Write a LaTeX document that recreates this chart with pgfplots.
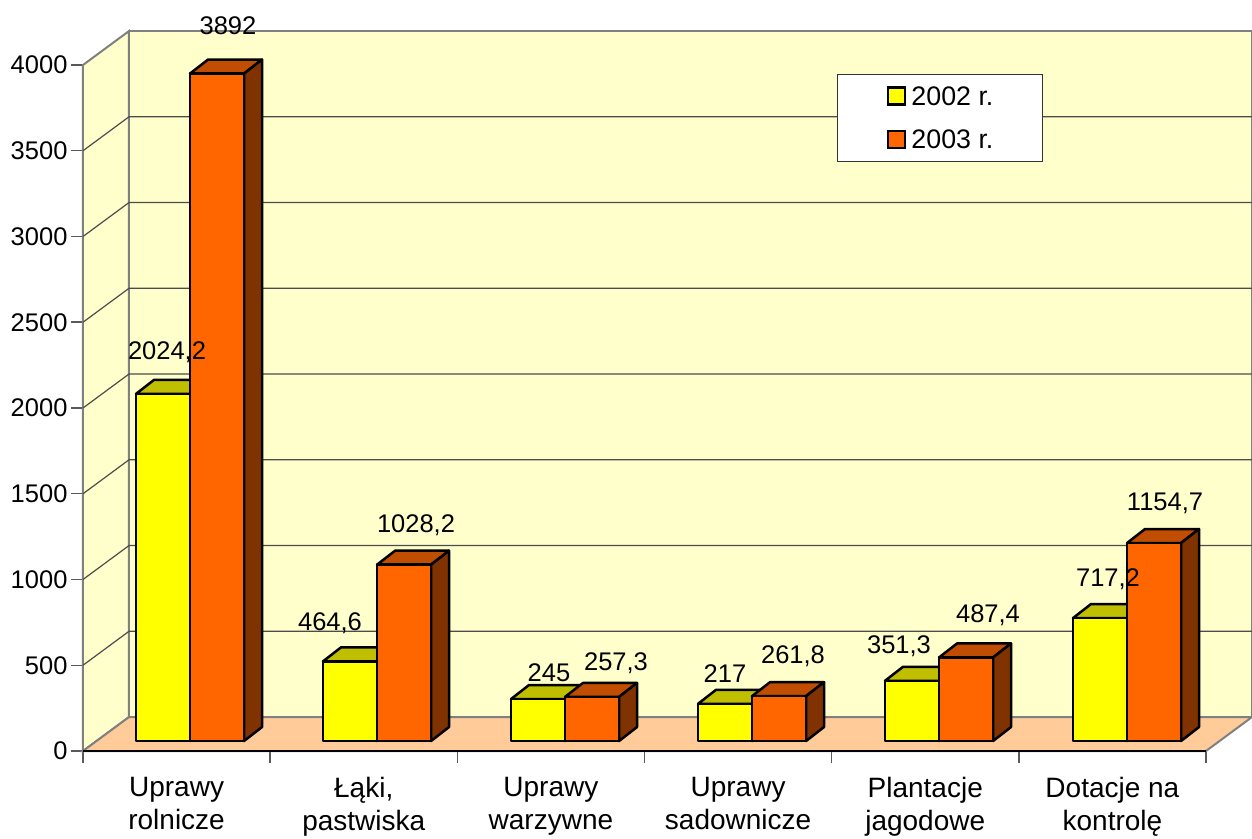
\documentclass[border=0pt]{standalone}
\usepackage{pgfplots}
\usepackage{pgfplotstable}
\pgfplotsset{compat=1.18}
\usepackage{fontspec}
\setmainfont{Liberation Sans}
\definecolor{wall}{HTML}{FFFFCC}
\definecolor{floorc}{HTML}{FFCC99}
\definecolor{yfront}{HTML}{FFFF00}
\definecolor{ytop}{HTML}{BFBF00}
\definecolor{yside}{HTML}{808000}
\definecolor{ofront}{HTML}{FF6600}
\definecolor{otop}{HTML}{C04D00}
\definecolor{oside}{HTML}{803300}
% unit shapes of a 3D bar: x = X + left edge (px), y = A*value + B
\pgfplotstableread{
X A B
0 0 58
54 0 58
54 1 58
0 1 58
}\frontface
\pgfplotstableread{
X A B
0 1 58
54 1 58
72 1 139.6
18 1 139.6
}\topface
\pgfplotstableread{
X A B
54 0 58
72 0 139.6
72 1 139.6
54 1 58
}\sideface
\newcommand{\face}[4]{\addplot[fill=#4,draw=black,line width=2.5pt,line join=round,forget plot]
  table[x expr=\thisrow{X}+#2,y expr=\thisrow{A}*#3+\thisrow{B}] {#1} -- cycle;}
\newcommand{\ybarthree}[2]{\face{\topface}{#1}{#2}{ytop}\face{\sideface}{#1}{#2}{yside}\face{\frontface}{#1}{#2}{yfront}}
\newcommand{\obarthree}[2]{\face{\topface}{#1}{#2}{otop}\face{\sideface}{#1}{#2}{oside}\face{\frontface}{#1}{#2}{ofront}}
\newcommand{\vlab}[3]{\node[font=\fontsize{25.5}{30}\selectfont,inner sep=0pt] at (axis cs:#1,{(751-#2-1)/0.1715}) {#3};}
\begin{document}
\begin{tikzpicture}
\begin{axis}[
  scale only axis,width=1123pt,height=686pt,
  xmin=83,xmax=1206,ymin=0,ymax=4000,
  clip=false,
  axis lines=left,
  axis line style={-,draw=black!65,line width=1.5pt},
  xtick={83,270.17,457.33,644.5,831.67,1018.83,1206},
  x tick label as interval,
  xticklabels={Uprawy\\rolnicze,{Łąki,\\pastwiska},Uprawy\\warzywne,Uprawy\\sadownicze,Plantacje\\jagodowe,Dotacje na\\kontrolę},
  ytick={0,500,1000,1500,2000,2500,3000,3500,4000},
  tick align=outside,
  major tick length=12pt,
  tick style={draw=black!65,line width=1.5pt},
  /pgf/number format/1000 sep={},
  /pgf/number format/assume math mode=true,
  yticklabel style={font=\fontsize{25.5}{33}\selectfont},
  xticklabel style={font=\fontsize{28}{33}\selectfont,align=center,yshift=-11pt},
  legend style={at={(rel axis cs:0.6714,0.9869)},anchor=north west,draw=black!80,line width=1pt,
    fill=white,font=\fontsize{26.8}{31}\selectfont,inner xsep=47pt,inner ysep=10pt,
    row sep=19pt,legend cell align=left},
  legend image code/.code={\draw[#1,draw=black,line width=2.5pt] (0pt,-8pt) rectangle (17pt,9pt);\path (-3pt,0pt) (21pt,0pt);},
]
% walls and floor
\addplot[fill=wall,draw=black!50,line width=2pt,forget plot] coordinates {(83,0)(129,198)(129,4198)(83,4000)} -- cycle;
\addplot[fill=wall,draw=black!50,line width=2pt,forget plot] coordinates {(129,198)(1252,198)(1252,4198)(129,4198)} -- cycle;
\addplot[fill=floorc,draw=black!50,line width=2pt,forget plot] coordinates {(83,0)(129,198)(1252,198)(1206,0)} -- cycle;
\addplot[draw=black,line width=1.5pt,forget plot] coordinates {(83,0)(1206,0)};
% gridlines
\addplot[draw=black!70,line width=1.2pt,forget plot] coordinates {(83,500)(129,698)(1252,698)};
\addplot[draw=black!70,line width=1.2pt,forget plot] coordinates {(83,1000)(129,1198)(1252,1198)};
\addplot[draw=black!70,line width=1.2pt,forget plot] coordinates {(83,1500)(129,1698)(1252,1698)};
\addplot[draw=black!70,line width=1.2pt,forget plot] coordinates {(83,2000)(129,2198)(1252,2198)};
\addplot[draw=black!70,line width=1.2pt,forget plot] coordinates {(83,2500)(129,2698)(1252,2698)};
\addplot[draw=black!70,line width=1.2pt,forget plot] coordinates {(83,3000)(129,3198)(1252,3198)};
\addplot[draw=black!70,line width=1.2pt,forget plot] coordinates {(83,3500)(129,3698)(1252,3698)};
% bars
\ybarthree{136}{2024.2}\obarthree{190}{3892}
\ybarthree{323}{464.6}\obarthree{377}{1028.2}
\ybarthree{511}{245}\obarthree{565}{257.3}
\ybarthree{698}{217}\obarthree{752}{261.8}
\ybarthree{885}{351.3}\obarthree{939}{487.4}
\ybarthree{1073}{717.2}\obarthree{1127}{1154.7}
% value labels
\vlab{228}{25}{3892}
\vlab{167}{351}{2024,2}
\vlab{416}{524}{1028,2}
\vlab{330}{622}{464,6}
\vlab{549}{672}{245}
\vlab{616}{662}{257,3}
\vlab{725}{673}{217}
\vlab{793}{655}{261,8}
\vlab{899}{645}{351,3}
\vlab{988}{614}{487,4}
\vlab{1108}{578}{717,2}
\vlab{1165}{502}{1154,7}
\addlegendimage{fill=yfront}
\addlegendentry{2002 r.}
\addlegendimage{fill=ofront}
\addlegendentry{2003 r.}
\end{axis}
\pgfresetboundingbox
\path[use as bounding box] (-83pt,-87pt) rectangle (1169pt,751pt);
\end{tikzpicture}
\end{document}
